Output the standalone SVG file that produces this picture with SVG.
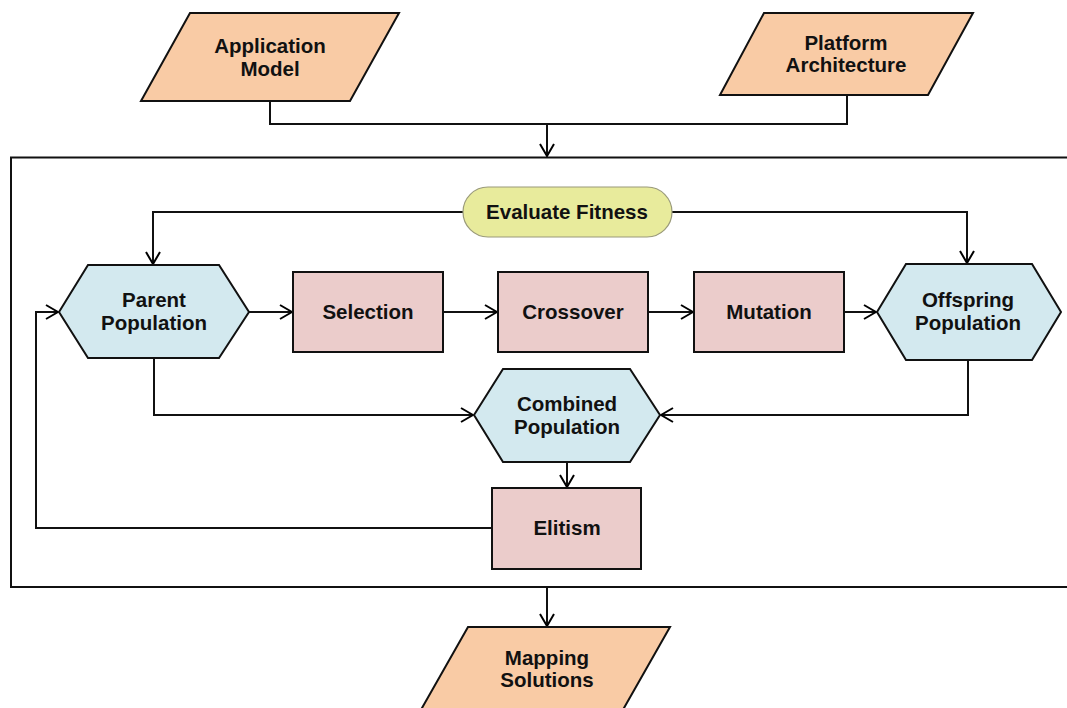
<svg xmlns="http://www.w3.org/2000/svg" width="1067" height="708" viewBox="0 0 1067 708">
<defs>
<marker id="arr" viewBox="0 0 14 16" refX="13" refY="8" markerWidth="14" markerHeight="16" markerUnits="userSpaceOnUse" orient="auto">
<path d="M1,1 L13,8 L1,15" fill="none" stroke="#000" stroke-width="2"/>
</marker>
<style>
.io{fill:#f9cba5;stroke:#111;stroke-width:2;stroke-linejoin:miter}
.hex{fill:#d3e9ef;stroke:#111;stroke-width:2}
.box{fill:#ebcccb;stroke:#111;stroke-width:2}
.term{fill:#e8eb9c;stroke:#9a9a7a;stroke-width:1.2}
.lbl{font-family:"Liberation Sans",Arial,sans-serif;font-weight:bold;font-size:20.5px;fill:#111;text-anchor:middle}
.c{fill:none;stroke:#111;stroke-width:2}
</style>
</defs>
<rect width="1067" height="708" fill="#fff"/>
<rect id="container" x="11" y="157.5" width="1080" height="429.5" fill="none" stroke="#111" stroke-width="2"/>
<g id="connectors">
<path class="c" d="M270,101 V124 H547 V156" marker-end="url(#arr)"/>
<path class="c" d="M847,95 V124 H547"/>
<path class="c" d="M463,212 H153 V264" marker-end="url(#arr)"/>
<path class="c" d="M672,212 H967 V263" marker-end="url(#arr)"/>
<path class="c" d="M249,312 H292" marker-end="url(#arr)"/>
<path class="c" d="M443,312 H497" marker-end="url(#arr)"/>
<path class="c" d="M648,312 H693" marker-end="url(#arr)"/>
<path class="c" d="M844,312 H876" marker-end="url(#arr)"/>
<path class="c" d="M154,358 V415 H473" marker-end="url(#arr)"/>
<path class="c" d="M968,360 V415 H661" marker-end="url(#arr)"/>
<path class="c" d="M567,462 V487" marker-end="url(#arr)"/>
<path class="c" d="M492,528 H36 V312 H58" marker-end="url(#arr)"/>
<path class="c" d="M547,587 V626" marker-end="url(#arr)"/>
</g>
<g id="app-model">
<polygon class="io" points="190,13 399,13 350,101 141,101"/>
<text class="lbl" x="270" y="52.5">Application</text>
<text class="lbl" x="270" y="75.5">Model</text>
</g>
<g id="platform">
<polygon class="io" points="764,13 973,13 928,95 720,95"/>
<text class="lbl" x="846" y="49.5">Platform</text>
<text class="lbl" x="846" y="71.5">Architecture</text>
</g>
<g id="evaluate">
<rect class="term" x="463" y="187" width="209" height="50" rx="25" ry="25"/>
<text class="lbl" x="567" y="218.5">Evaluate Fitness</text>
</g>
<g id="parent">
<polygon class="hex" points="59,312 88,265 219,265 249,312 219,358 88,358"/>
<text class="lbl" x="154" y="306.5">Parent</text>
<text class="lbl" x="154" y="329.5">Population</text>
</g>
<g id="selection">
<rect class="box" x="293" y="272" width="150" height="80"/>
<text class="lbl" x="368" y="318.5">Selection</text>
</g>
<g id="crossover">
<rect class="box" x="498" y="272" width="150" height="80"/>
<text class="lbl" x="573" y="318.5">Crossover</text>
</g>
<g id="mutation">
<rect class="box" x="694" y="272" width="150" height="80"/>
<text class="lbl" x="769" y="318.5">Mutation</text>
</g>
<g id="offspring">
<polygon class="hex" points="877,312 906,264 1032,264 1061,312 1032,360 906,360"/>
<text class="lbl" x="968" y="306.5">Offspring</text>
<text class="lbl" x="968" y="329.5">Population</text>
</g>
<g id="combined">
<polygon class="hex" points="474,415 503,369 630,369 660,415 630,462 503,462"/>
<text class="lbl" x="567" y="410.5">Combined</text>
<text class="lbl" x="567" y="433.5">Population</text>
</g>
<g id="elitism">
<rect class="box" x="492" y="488" width="149" height="81"/>
<text class="lbl" x="567" y="534.5">Elitism</text>
</g>
<g id="mapping">
<polygon class="io" points="468,627 670,627 620,715 418,715"/>
<text class="lbl" x="547" y="664.5">Mapping</text>
<text class="lbl" x="547" y="686.5">Solutions</text>
</g>
</svg>
